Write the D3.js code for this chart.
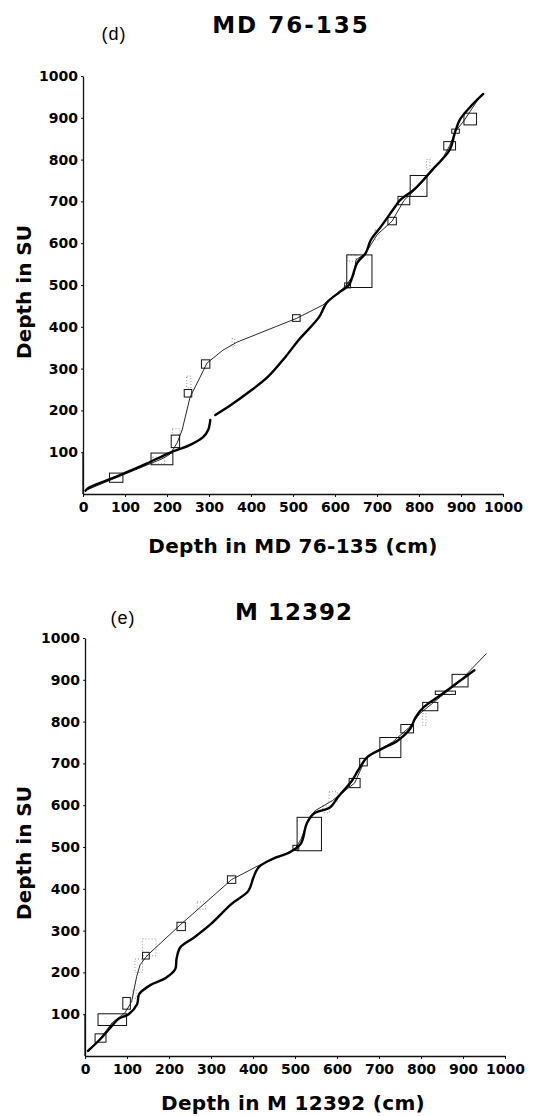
<!DOCTYPE html>
<html>
<head>
<meta charset="utf-8">
<script src="https://cdn.jsdelivr.net/npm/d3@7"></script>
<style>
  body { margin: 0; background: #fff; }
  svg { display: block; }
</style>
</head>
<body>
<svg width="536" height="1116"></svg>
<script>
// tick values shared by both panels
const xTicks = [0, 100, 200, 300, 400, 500, 600, 700, 800, 900, 1000];
const yTicks = [100, 200, 300, 400, 500, 600, 700, 800, 900, 1000];

// (d) MD 76-135 : smooth correlation curve (null = gap in the pen trace)
const thickD = [
  [6, 8], [12, 14], [78, 41], [150, 72], [205, 98], [254, 117], [286, 136],
  [298, 153], [303, 177], null, [315, 189], [352, 213], [391, 241], [440, 280],
  [482, 328], [513, 368], [562, 423], [580, 457], [611, 483], [633, 500],
  [653, 553], [673, 576], [685, 607], [709, 639], [743, 687], [755, 703],
  [792, 732], [831, 775], [873, 823], [885, 863], [897, 895], [922, 926], [953, 957]
];
// (d) tie points joined by straight segments
const thinD = [
  [5, 8], [79, 39], [188, 84], [207, 95], [224, 122], [236, 153], [255, 232],
  [279, 280], [295, 313], [333, 344], [366, 363], [508, 420], [571, 452],
  [624, 496], [645, 525], [650, 560], [673, 576], [700, 620], [736, 653],
  [764, 702], [800, 737], [830, 770], [860, 810], [873, 833], [887, 868],
  [905, 890], [946, 952]
];
// (d) boxes: x, y, half width, half height (data units)
const boxesD = [
  [79, 39, 16, 11], [188, 84, 26, 14], [220, 126, 10, 15], [250, 241, 9, 9],
  [292, 311, 10, 10], [508, 421, 9, 8], [658, 533, 30, 39], [630, 499, 7, 6],
  [736, 653, 10, 9], [764, 702, 14, 10], [799, 737, 20, 25], [873, 833, 14, 10],
  [887, 868, 9, 5], [922, 897, 15, 14]
];
// (d) faint dotted boxes
const dotsD = [
  [358, 362, 3, 10], [252, 268, 5, 14], [222, 148, 9, 8], [640, 565, 10, 8],
  [700, 620, 5, 12], [822, 788, 4, 12], [180, 80, 14, 8]
];

// (e) M 12392
const thickE = [
  [7, 12], [39, 43], [64, 72], [80, 89], [104, 100], [124, 124], [129, 148],
  [153, 168], [193, 187], [215, 208], [218, 233], [227, 260], [259, 283],
  [300, 316], [349, 364], [389, 395], [401, 427], [413, 451], [447, 472],
  [487, 487], [514, 508], [528, 556], [545, 580], [584, 595], [602, 619],
  [636, 659], [650, 683], [672, 715], [709, 736], [745, 755], [775, 784],
  [787, 810], [807, 835], [846, 863], [888, 894], [927, 923]
];
const thinE = [
  [8, 10], [37, 43], [65, 80], [95, 103], [111, 130], [123, 190], [131, 218],
  [143, 234], [152, 244], [226, 313], [286, 366], [349, 422], [414, 456],
  [471, 480], [502, 498], [515, 520], [528, 556], [548, 587], [589, 611],
  [642, 653], [659, 691], [667, 711], [691, 727], [732, 751], [773, 787],
  [797, 819], [846, 859], [887, 891], [956, 963]
];
const boxesE = [
  [37, 43, 13, 10], [65, 87, 34, 14], [99, 126, 9, 14], [145, 240, 8, 8],
  [229, 310, 10, 10], [349, 422, 10, 9], [502, 498, 7, 6], [534, 531, 29, 40],
  [642, 653, 13, 11], [663, 703, 9, 9], [727, 738, 25, 24], [767, 783, 15, 10],
  [822, 836, 18, 10], [858, 869, 24, 4], [893, 898, 19, 15]
];
const dotsE = [
  [153, 260, 16, 20], [128, 216, 9, 16], [277, 360, 10, 9], [591, 620, 10, 12],
  [574, 590, 8, 8], [808, 805, 4, 14], [118, 148, 4, 10]
];

const svg = d3.select("svg");
svg.append("rect").attr("width", 536).attr("height", 1116).attr("fill", "#fff");

const boldFont = "'DejaVu Sans', sans-serif";

function drawPanel(p) {
  const g = svg.append("g");
  const x = d3.scaleLinear().domain([0, 1000]).range(p.xRange);
  const y = d3.scaleLinear().domain([0, 1000]).range(p.yRange);

  // axes
  const xAxis = g.append("g")
    .attr("transform", `translate(0,${p.yRange[0]})`)
    .call(d3.axisBottom(x).tickValues(xTicks).tickFormat(d3.format("d"))
      .tickSize(3).tickSizeOuter(0).tickPadding(5));
  const yAxis = g.append("g")
    .attr("transform", `translate(${p.xRange[0]},0)`)
    .call(d3.axisLeft(y).tickValues(yTicks).tickFormat(d3.format("d"))
      .tickSize(2).tickSizeOuter(0).tickPadding(3));
  [xAxis, yAxis].forEach((a) => {
    a.select(".domain").attr("stroke", "#111").attr("stroke-width", 1.3);
    a.selectAll(".tick line").attr("stroke", "#111");
    a.selectAll("text")
      .attr("fill", "#000")
      .style("font-family", boldFont)
      .style("font-weight", "bold")
      .style("font-size", "14px");
  });
  // y axis runs down to the x axis
  g.append("line")
    .attr("x1", p.xRange[0]).attr("x2", p.xRange[0])
    .attr("y1", y(0)).attr("y2", y(100))
    .attr("stroke", "#111").attr("stroke-width", 1.3);

  const line = d3.line()
    .defined((d) => d)
    .x((d) => x(d[0]))
    .y((d) => y(d[1]));

  // faint dotted boxes
  g.append("g").selectAll("rect")
    .data(p.dots)
    .enter()
    .append("rect")
    .attr("x", (d) => x(d[0] - d[2]))
    .attr("y", (d) => y(d[1] + d[3]))
    .attr("width", (d) => x(d[0] + d[2]) - x(d[0] - d[2]))
    .attr("height", (d) => y(d[1] - d[3]) - y(d[1] + d[3]))
    .attr("fill", "none")
    .attr("stroke", "#777")
    .attr("stroke-width", 0.8)
    .attr("stroke-dasharray", "1,2");

  // tie point boxes
  g.append("g").selectAll("rect")
    .data(p.boxes)
    .enter()
    .append("rect")
    .attr("x", (d) => x(d[0] - d[2]))
    .attr("y", (d) => y(d[1] + d[3]))
    .attr("width", (d) => x(d[0] + d[2]) - x(d[0] - d[2]))
    .attr("height", (d) => y(d[1] - d[3]) - y(d[1] + d[3]))
    .attr("fill", "none")
    .attr("stroke", "#111")
    .attr("stroke-width", 1);

  // thin line through tie points
  g.append("path")
    .datum(p.thin)
    .attr("d", line.curve(d3.curveLinear))
    .attr("fill", "none")
    .attr("stroke", "#111")
    .attr("stroke-width", 0.9);

  // smooth thick curve
  g.append("path")
    .datum(p.thick)
    .attr("d", line.curve(d3.curveCatmullRom.alpha(0.5)))
    .attr("fill", "none")
    .attr("stroke", "#000")
    .attr("stroke-width", 2.4)
    .attr("stroke-linecap", "round");

  // titles
  g.append("text")
    .attr("x", p.titleX).attr("y", p.titleY)
    .attr("text-anchor", "middle")
    .style("font-family", boldFont).style("font-weight", "bold")
    .style("font-size", "23px").style("letter-spacing", p.titleSpacing)
    .text(p.title);
  g.append("text")
    .attr("x", p.tagX).attr("y", p.tagY)
    .attr("text-anchor", "middle")
    .style("font-family", "'Liberation Sans', sans-serif")
    .style("font-size", "18px")
    .style("letter-spacing", "1px")
    .text(p.tag);
  g.append("text")
    .attr("x", 293).attr("y", p.xLabelY)
    .attr("text-anchor", "middle")
    .style("font-family", boldFont).style("font-weight", "bold")
    .style("font-size", "20px").style("letter-spacing", "0.3px")
    .text(p.xLabel);
  g.append("text")
    .attr("transform", `translate(31,${p.yLabelY}) rotate(-90)`)
    .attr("text-anchor", "middle")
    .style("font-family", boldFont).style("font-weight", "bold")
    .style("font-size", "20px")
    .text("Depth in SU");
}

drawPanel({
  xRange: [83, 503], yRange: [494, 76],
  thick: thickD, thin: thinD, boxes: boxesD, dots: dotsD,
  title: "MD 76-135", titleX: 291, titleY: 33, titleSpacing: "2px",
  tag: "(d)", tagX: 114, tagY: 40,
  xLabel: "Depth in MD 76-135 (cm)", xLabelY: 553, yLabelY: 292
});

drawPanel({
  xRange: [85, 505], yRange: [1056, 638],
  thick: thickE, thin: thinE, boxes: boxesE, dots: dotsE,
  title: "M 12392", titleX: 294, titleY: 620, titleSpacing: "1px",
  tag: "(e)", tagX: 123, tagY: 624,
  xLabel: "Depth in M 12392 (cm)", xLabelY: 1110, yLabelY: 853
});
</script>
</body>
</html>
